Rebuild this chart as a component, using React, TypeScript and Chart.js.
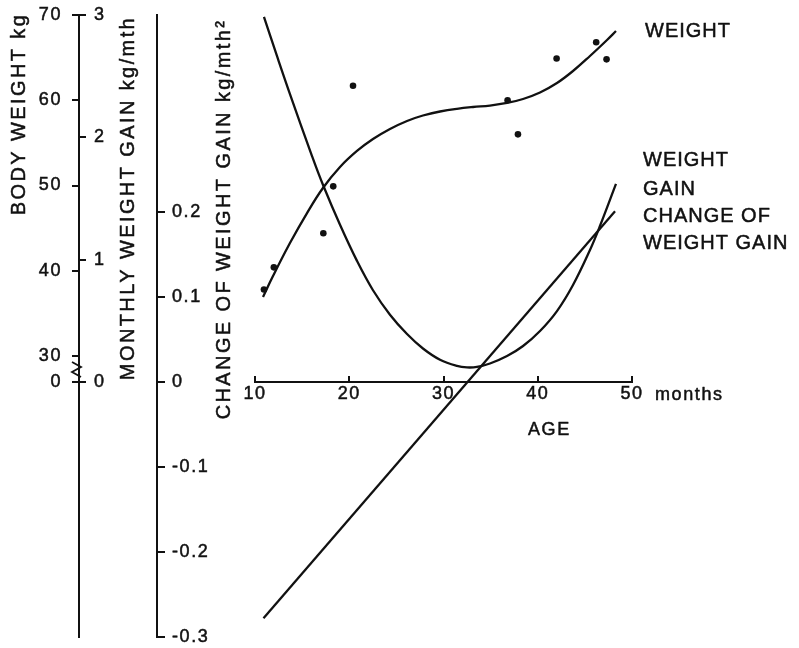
import React, { useEffect, useRef } from 'react';
import { Chart, registerables } from 'chart.js';

Chart.register(...registerables);

const FONT = '"Liberation Sans", Arial, Helvetica, sans-serif';
const INK = '#111111';

// ---------- data ----------
const weightCurveAge = [10.85, 11.91, 13.71, 15.52, 17.21, 19.02, 20.82, 22.52, 24.32, 26.13, 27.82, 29.63, 31.43, 33.13, 34.93, 36.74, 38.44, 40.24, 42.04, 43.74, 45.54, 47.35, 48.3];
const weightCurveKg = [36.92, 39.38, 43.25, 46.77, 49.71, 52.17, 54.05, 55.45, 56.63, 57.57, 58.21, 58.68, 59.0, 59.21, 59.38, 59.68, 60.15, 60.91, 62.02, 63.43, 65.19, 67.07, 68.12];

const weightDotAge = [10.95, 12.0, 17.25, 18.3, 20.4, 36.8, 37.9, 42.0, 46.2, 47.3];
const weightDotKg = [37.8, 40.4, 44.4, 49.9, 61.7, 60.0, 56.0, 64.9, 66.8, 64.8];

const gainAge = [10.95, 12.33, 13.71, 16.05, 17.22, 19.02, 20.82, 22.52, 24.32, 26.13, 27.82, 29.63, 31.43, 32.49, 33.55, 34.93, 36.74, 38.44, 40.24, 42.04, 43.74, 45.54, 46.6, 48.3];
const gainKgPerMonth = [2.984, 2.665, 2.354, 1.847, 1.61, 1.285, 0.99, 0.75, 0.55, 0.392, 0.274, 0.182, 0.131, 0.119, 0.123, 0.151, 0.212, 0.294, 0.417, 0.58, 0.793, 1.079, 1.275, 1.619];

const changeAge = [10.9, 48.2];
const changeKgPerMonth2 = [-0.278, 0.201];

// ---------- ticks ----------
const ageTicks = [10, 20, 30, 40, 50];
const ageTickLabels = ['10', '20', '30', '40', '50'];
const weightTicks = [30, 40, 50, 60, 70];
const weightTickLabels = ['0', '30', '40', '50', '60', '70'];
const gainTicks = [0, 1, 2, 3];
const gainTickLabels = ['0', '1', '2', '3'];
const changeTicks = [-0.3, -0.2, -0.1, 0, 0.1, 0.2];
const changeTickLabels = ['-0.3', '-0.2', '-0.1', '0', '0.1', '0.2'];

// ---------- geometry of the scales (layout) ----------
const CANVAS_W = 799;
const CANVAS_H = 648;
const AREA_LEFT = 255;
const AREA_RIGHT = 632;
const AREA_TOP = 15;
const AREA_BOTTOM = 637;
const ZERO_PX = 382;
const W30_PX = 356;
const W_AXIS_X = 79;
const C_AXIS_X = 157;

const wPxPerUnit = (W30_PX - AREA_TOP) / (70 - 30);
const W_MAX = 70;
const W_MIN = W_MAX - (AREA_BOTTOM - AREA_TOP) / wPxPerUnit;
const W_BREAK = W_MAX - (ZERO_PX - AREA_TOP) / wPxPerUnit;

const gPxPerUnit = (ZERO_PX - AREA_TOP) / 3;
const G_MAX = 3;
const G_MIN = -(AREA_BOTTOM - ZERO_PX) / gPxPerUnit;

const cPxPerUnit = (AREA_BOTTOM - ZERO_PX) / 0.3;
const C_MIN = -0.3;
const C_MAX = (ZERO_PX - AREA_TOP) / cPxPerUnit;

const TICK_FONT = { family: FONT, size: 18 };
const TEXT_STROKE = 0.5;

const setTicks = (values: number[]) => (scale: any) => {
  scale.ticks = values.map((v) => ({ value: v }));
};

const fitBox = (width: number) => (scale: any) => {
  scale.width = width;
  scale.paddingTop = 0;
  scale.paddingBottom = 0;
};

const tickOpts = (labels: string[], extra: any) => ({
  autoSkip: false,
  color: INK,
  font: TICK_FONT,
  textStrokeColor: INK,
  textStrokeWidth: TEXT_STROKE,
  callback: (_v: any, i: number) => labels[i],
  ...extra,
});

const drawText = (ctx: any, t: string, x: number, y: number) => {
  ctx.fillText(t, x, y);
  ctx.strokeText(t, x, y);
};

const extrasPlugin = {
  id: 'extras',
  beforeDraw(chart: any) {
    chart.ctx.letterSpacing = '1.6px';
  },
  afterDraw(chart: any) {
    const ctx = chart.ctx;
    const w = chart.scales.w;
    const x = chart.scales.x;
    ctx.save();
    ctx.fillStyle = INK;
    ctx.strokeStyle = INK;
    ctx.lineWidth = TEXT_STROKE;
    ctx.lineJoin = 'round';

    // axis titles (rotated)
    ctx.font = `20px ${FONT}`;
    ctx.letterSpacing = '2.4px';
    ctx.textAlign = 'center';
    ctx.textBaseline = 'alphabetic';
    const titles: [string, number, number][] = [
      ['BODY WEIGHT kg', 25, 114],
      ['MONTHLY WEIGHT GAIN kg/mth', 134, 198],
      ['CHANGE OF WEIGHT GAIN kg/mth²', 230, 219],
    ];
    for (const [t, tx, ty] of titles) {
      ctx.save();
      ctx.translate(tx, ty);
      ctx.rotate(-Math.PI / 2);
      drawText(ctx, t, 0, 0);
      ctx.restore();
    }

    // curve labels on the right
    ctx.font = `20px ${FONT}`;
    ctx.letterSpacing = '1px';
    ctx.textAlign = 'left';
    const right: [string, number, number][] = [
      ['WEIGHT', 645, 37],
      ['WEIGHT', 643, 166],
      ['GAIN', 643, 195],
      ['CHANGE OF', 643, 222],
      ['WEIGHT GAIN', 643, 248.5],
    ];
    for (const [t, tx, ty] of right) drawText(ctx, t, tx, ty);

    // x axis unit and title
    ctx.font = `18px ${FONT}`;
    ctx.letterSpacing = '1.6px';
    drawText(ctx, 'months', x.right + 23, 400);
    drawText(ctx, 'AGE', 528, 435);

    // axis break mark between 30 and 0 on the body weight axis
    const yA = w.getPixelForValue(30) + 6;
    const yB = w.getPixelForValue(W_BREAK) - 5;
    const x0 = w.right;
    const step = (yB - yA) / 3;
    ctx.lineWidth = 1.8;
    ctx.lineJoin = 'miter';
    ctx.beginPath();
    ctx.moveTo(x0 - 7, yA);
    for (let i = 1; i <= 3; i++) {
      ctx.lineTo(i % 2 === 1 ? x0 + 2 : x0 - 7, yA + step * i);
    }
    ctx.stroke();

    ctx.restore();
    ctx.letterSpacing = '0px';
  },
};

export default function App() {
  const ref = useRef<HTMLCanvasElement>(null);

  useEffect(() => {
    if (!ref.current) return;
    const line = {
      borderColor: INK,
      borderWidth: 2.3,
      pointRadius: 0,
      fill: false,
      clip: false as any,
    };
    const chart = new Chart(ref.current, {
      type: 'line',
      data: {
        datasets: [
          {
            ...line,
            label: 'Weight',
            yAxisID: 'w',
            tension: 0.4,
            data: weightCurveAge.map((a, i) => ({ x: a, y: weightCurveKg[i] })),
          },
          {
            label: 'Weight observed',
            yAxisID: 'w',
            showLine: false,
            pointRadius: 3.3,
            pointBorderWidth: 0,
            pointBackgroundColor: INK,
            borderColor: INK,
            clip: false as any,
            data: weightDotAge.map((a, i) => ({ x: a, y: weightDotKg[i] })),
          },
          {
            ...line,
            label: 'Weight gain',
            yAxisID: 'g',
            tension: 0.4,
            data: gainAge.map((a, i) => ({ x: a, y: gainKgPerMonth[i] })),
          },
          {
            ...line,
            label: 'Change of weight gain',
            yAxisID: 'c',
            tension: 0,
            data: changeAge.map((a, i) => ({ x: a, y: changeKgPerMonth2[i] })),
          },
        ],
      },
      options: {
        responsive: false,
        animation: false,
        events: [],
        layout: {
          padding: { left: 0, top: AREA_TOP, right: CANVAS_W - AREA_RIGHT, bottom: CANVAS_H - AREA_BOTTOM },
        },
        plugins: {
          legend: { display: false },
          tooltip: { enabled: false },
        },
        scales: {
          x: {
            type: 'linear',
            min: 10,
            max: 50,
            position: { g: 0 } as any,
            afterBuildTicks: setTicks(ageTicks),
            afterFit: (s: any) => {
              s.paddingLeft = 0;
              s.paddingRight = 0;
            },
            ticks: tickOpts(ageTickLabels, { maxRotation: 0, padding: 8 }),
            grid: { drawOnChartArea: false, tickLength: -7, color: INK, lineWidth: 2 },
            border: { display: true, color: INK, width: 2 },
          },
          w: {
            type: 'linear',
            position: 'left',
            weight: 4,
            min: W_MIN,
            max: W_MAX,
            afterBuildTicks: setTicks([W_BREAK, ...weightTicks]),
            afterFit: fitBox(W_AXIS_X),
            ticks: tickOpts(weightTickLabels, { padding: 10 }),
            grid: { drawOnChartArea: false, tickLength: 7, color: INK, lineWidth: 2 },
            border: { display: true, color: INK, width: 2 },
          },
          g: {
            type: 'linear',
            position: 'left',
            weight: 3,
            min: G_MIN,
            max: G_MAX,
            afterBuildTicks: setTicks(gainTicks),
            afterFit: fitBox(0),
            ticks: tickOpts(gainTickLabels, { mirror: true, padding: 15 }),
            grid: { drawOnChartArea: false, tickLength: -7, color: INK, lineWidth: 2 },
            border: { display: false },
          },
          c: {
            type: 'linear',
            position: 'left',
            weight: 2,
            min: C_MIN,
            max: C_MAX,
            afterBuildTicks: setTicks(changeTicks),
            afterFit: fitBox(C_AXIS_X - W_AXIS_X),
            ticks: tickOpts(changeTickLabels, { mirror: true, padding: 15 }),
            grid: { drawOnChartArea: false, tickLength: -8, color: INK, lineWidth: 2 },
            border: { display: true, color: INK, width: 2 },
          },
          pad: {
            type: 'linear',
            position: 'left',
            weight: 1,
            min: 0,
            max: 1,
            afterFit: fitBox(AREA_LEFT - C_AXIS_X),
            ticks: { display: false },
            grid: { display: false },
            border: { display: false },
          },
        },
      } as any,
      plugins: [extrasPlugin],
    });
    return () => chart.destroy();
  }, []);

  return (
    <div style={{ position: 'fixed', left: 0, top: 0, width: CANVAS_W, height: CANVAS_H, background: '#ffffff' }}>
      <canvas ref={ref} width={CANVAS_W} height={CANVAS_H} style={{ display: 'block', width: CANVAS_W, height: CANVAS_H }} />
    </div>
  );
}
